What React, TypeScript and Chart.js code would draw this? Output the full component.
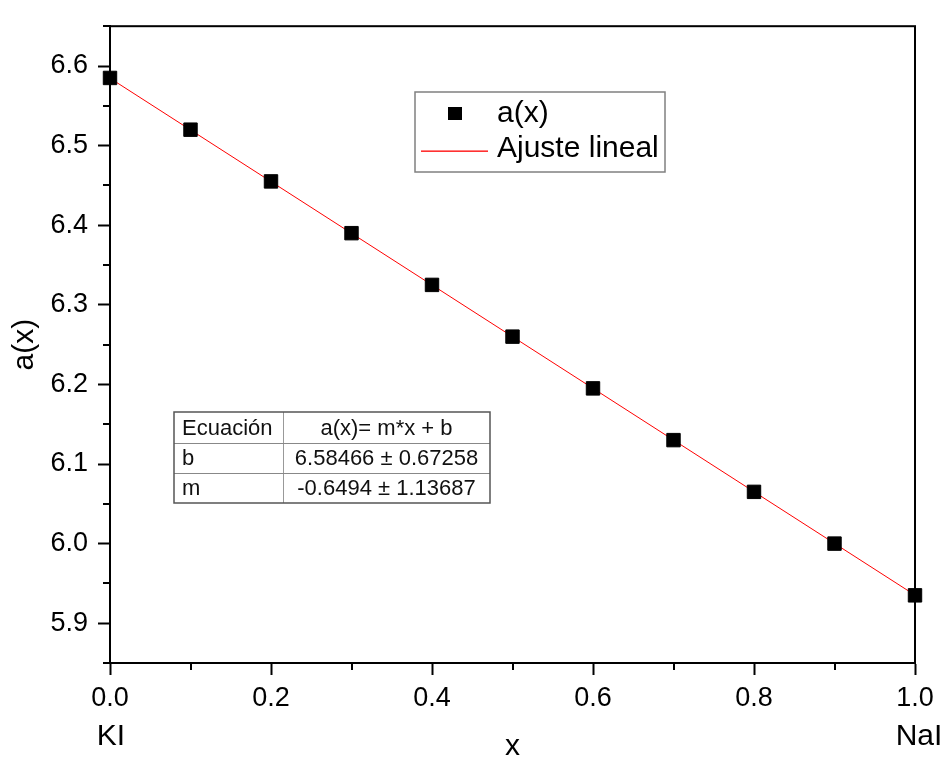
import React, { useEffect, useRef } from 'react';
import { Chart, registerables } from 'chart.js';

Chart.register(...registerables);

// ---- data ----
const xValues = [0, 0.1, 0.2, 0.3, 0.4, 0.5, 0.6, 0.7, 0.8, 0.9, 1.0];
const aValues = [6.585, 6.52, 6.455, 6.39, 6.325, 6.26, 6.195, 6.13, 6.065, 6.0, 5.935];
const fitX = [0, 1];
const fitY = [6.58466, 5.93526];
const xMajorTicks = [0, 0.2, 0.4, 0.6, 0.8, 1.0];
const xMinorTicks = [0.1, 0.3, 0.5, 0.7, 0.9];
const yMajorTicks = [5.9, 6.0, 6.1, 6.2, 6.3, 6.4, 6.5, 6.6];
const yMinorTicks = [5.85, 5.95, 6.05, 6.15, 6.25, 6.35, 6.45, 6.55, 6.65];
const xEndLabels = ['KI', 'NaI'];
const seriesLabels = ['a(x)', 'Ajuste lineal'];
const tableHeader = ['Ecuación', 'a(x)= m*x + b'];
const tableParams = ['b', 'm'];
const tableValues = ['6.58466 ± 0.67258', '-0.6494 ± 1.13687'];

const FONT = '"Liberation Sans", Arial, sans-serif';
const W = 946;
const H = 759;
const RED = '#ff0000';

const decor = {
  id: 'decor',
  beforeDatasetsDraw(chart: any) {
    const { ctx, chartArea: a, scales } = chart;
    ctx.save();
    ctx.strokeStyle = '#000';
    ctx.lineWidth = 2;
    ctx.strokeRect(a.left, a.top, a.right - a.left, a.bottom - a.top);
    ctx.beginPath();
    xMinorTicks.forEach((v) => {
      const px = Math.round(scales.x.getPixelForValue(v));
      ctx.moveTo(px, a.bottom);
      ctx.lineTo(px, a.bottom + 7);
    });
    yMinorTicks.forEach((v) => {
      const py = Math.round(scales.y.getPixelForValue(v));
      ctx.moveTo(a.left, py);
      ctx.lineTo(a.left - 7, py);
    });
    ctx.stroke();
    ctx.restore();
  },
  afterDraw(chart: any) {
    const { ctx, chartArea: a, scales } = chart;
    ctx.save();
    // end labels KI / NaI
    ctx.fillStyle = '#000';
    ctx.font = `30px ${FONT}`;
    ctx.textAlign = 'center';
    ctx.textBaseline = 'alphabetic';
    ctx.fillText(xEndLabels[0], scales.x.getPixelForValue(0) + 1, a.bottom + 82);
    ctx.fillText(xEndLabels[1], scales.x.getPixelForValue(1) + 4, a.bottom + 82);

    // legend
    const lx = 415, ly = 92, lw = 250, lh = 80;
    ctx.strokeStyle = '#808080';
    ctx.lineWidth = 1.5;
    ctx.strokeRect(lx, ly, lw, lh);
    ctx.fillStyle = '#000';
    ctx.fillRect(448, 107, 14, 13);
    ctx.fillStyle = RED;
    ctx.fillRect(421, 150.5, 67, 1.3);
    ctx.fillStyle = '#000';
    ctx.textAlign = 'left';
    ctx.font = `30px ${FONT}`;
    ctx.fillText(seriesLabels[0], 497, 122);
    ctx.fillText(seriesLabels[1], 497, 157);

    // table
    const tl = 174, tt = 412, tr = 490, tb = 503, tdiv = 283;
    const rows = [412, 443, 473, 503];
    ctx.lineWidth = 1;
    ctx.strokeStyle = '#999';
    ctx.beginPath();
    ctx.moveTo(tdiv + 0.5, tt);
    ctx.lineTo(tdiv + 0.5, tb);
    ctx.stroke();
    ctx.strokeStyle = '#888';
    ctx.beginPath();
    ctx.moveTo(tl, rows[1] + 0.5);
    ctx.lineTo(tr, rows[1] + 0.5);
    ctx.moveTo(tl, rows[2] + 0.5);
    ctx.lineTo(tr, rows[2] + 0.5);
    ctx.stroke();
    ctx.strokeStyle = '#555';
    ctx.lineWidth = 1.5;
    ctx.strokeRect(tl, tt, tr - tl, tb - tt);
    ctx.fillStyle = '#111';
    ctx.font = `22px ${FONT}`;
    ctx.textBaseline = 'middle';
    const centers = [0, 1, 2].map((i) => (rows[i] + rows[i + 1]) / 2 + 1);
    const col1 = [tableHeader[0], ...tableParams];
    const col2 = [tableHeader[1], ...tableValues];
    ctx.textAlign = 'left';
    col1.forEach((t, i) => ctx.fillText(t, tl + 8, centers[i]));
    ctx.textAlign = 'center';
    col2.forEach((t, i) => ctx.fillText(t, (tdiv + tr) / 2, centers[i]));
    ctx.restore();
  },
};

const axisGrid = {
  display: true,
  drawOnChartArea: false,
  drawTicks: true,
  tickLength: 12,
  tickColor: '#000',
  tickWidth: 2,
  color: '#000',
};

export default function App() {
  const ref = useRef<HTMLCanvasElement | null>(null);
  useEffect(() => {
    if (!ref.current) return;
    const chart = new Chart(ref.current, {
      type: 'scatter',
      data: {
        datasets: [
          {
            label: seriesLabels[0],
            data: xValues.map((x, i) => ({ x, y: aValues[i] })),
            pointStyle: 'rect',
            pointRadius: 9.5,
            pointHoverRadius: 9.5,
            backgroundColor: '#000',
            borderColor: '#000',
            borderWidth: 1,
            showLine: false,
            clip: false,
          } as any,
          {
            label: seriesLabels[1],
            data: fitX.map((x, i) => ({ x, y: fitY[i] })),
            showLine: true,
            pointRadius: 0,
            borderColor: RED,
            borderWidth: 1,
            backgroundColor: RED,
          } as any,
        ],
      },
      options: {
        animation: false,
        responsive: false,
        devicePixelRatio: 1,
        events: [],
        layout: { padding: { left: 0, top: 16, right: 31, bottom: 0 } },
        plugins: { legend: { display: false }, tooltip: { enabled: false } },
        scales: {
          x: {
            type: 'linear',
            min: 0,
            max: 1,
            afterBuildTicks: (s: any) => {
              s.ticks = xMajorTicks.map((v) => ({ value: v }));
            },
            afterFit: (s: any) => {
              s.height = 96;
            },
            ticks: {
              callback: (v: any) => Number(v).toFixed(1),
              font: { family: FONT, size: 27 },
              color: '#000',
              padding: 7,
              maxRotation: 0,
              autoSkip: false,
            },
            grid: axisGrid,
            border: { display: true, color: '#000', width: 2 },
            title: {
              display: true,
              text: 'x',
              color: '#000',
              font: { family: FONT, size: 30, lineHeight: 0.8 },
              padding: { top: 0, bottom: 0 },
            },
          },
          y: {
            type: 'linear',
            min: 5.85,
            max: 6.65,
            afterBuildTicks: (s: any) => {
              s.ticks = yMajorTicks.map((v) => ({ value: v }));
            },
            afterFit: (s: any) => {
              s.width = 110;
            },
            ticks: {
              callback: (v: any) => Number(v).toFixed(1),
              font: { family: FONT, size: 27 },
              color: '#000',
              padding: 10,
              autoSkip: false,
            },
            grid: axisGrid,
            border: { display: true, color: '#000', width: 2 },
            title: {
              display: true,
              text: 'a(x)',
              color: '#000',
              font: { family: FONT, size: 30 },
              padding: { top: 7, bottom: 0 },
            },
          },
        },
      } as any,
      plugins: [decor],
    });
    return () => chart.destroy();
  }, []);
  return (
    <div style={{ position: 'fixed', left: 0, top: 0, width: W, height: H, background: '#fff' }}>
      <canvas ref={ref} width={W} height={H} style={{ display: 'block', width: W, height: H }} />
    </div>
  );
}
